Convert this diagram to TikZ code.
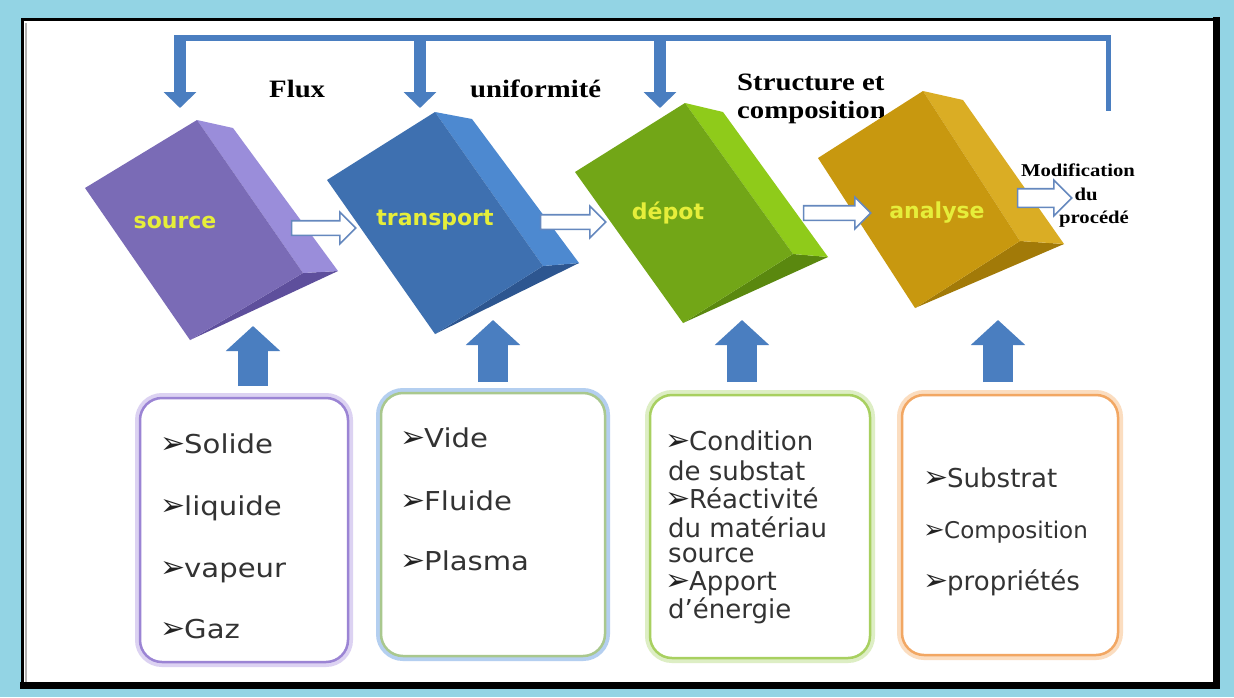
\documentclass[tikz,border=0pt]{standalone}
\usepackage{fontspec}
\setmainfont{Liberation Serif}
\newfontfamily\headfont[FakeStretch=1.15]{Liberation Serif}
\newfontfamily\labfont{DejaVu Sans}
\newfontfamily\itemfonta[FakeStretch=1.12]{DejaVu Sans}
\newfontfamily\itemfontb{DejaVu Sans}
\newfontfamily\arrfont{DejaVu Sans}
\usetikzlibrary{arrows.meta,shapes.arrows,calc}
\definecolor{bgblue}{HTML}{93D4E4}
\definecolor{fbblue}{HTML}{4A7EC0}
\definecolor{holblue}{HTML}{6588BE}
\definecolor{labyellow}{HTML}{E6EE3A}
\definecolor{itemgray}{HTML}{333333}
\definecolor{arrgray}{HTML}{222222}
\definecolor{srcF}{HTML}{7A6BB6}\definecolor{srcS}{HTML}{9A8DDA}\definecolor{srcB}{HTML}{5E4F9C}
\definecolor{trpF}{HTML}{3E70B0}\definecolor{trpS}{HTML}{4D89D0}\definecolor{trpB}{HTML}{2D5690}
\definecolor{depF}{HTML}{72A617}\definecolor{depS}{HTML}{8FCB1A}\definecolor{depB}{HTML}{5A880F}
\definecolor{anaF}{HTML}{C8980F}\definecolor{anaS}{HTML}{DAAD24}\definecolor{anaB}{HTML}{A27A08}
\definecolor{lineA}{HTML}{9B84D4}\definecolor{glowA}{HTML}{DCD2F2}
\definecolor{lineB}{HTML}{A9C88E}\definecolor{glowB}{HTML}{B4CFF0}
\definecolor{lineC}{HTML}{A8D060}\definecolor{glowC}{HTML}{DDEEC4}
\definecolor{lineD}{HTML}{F2A763}\definecolor{glowD}{HTML}{FBDDC0}
\newcommand\drawslab[9]{%
  \fill[#9] #4 -- #3 -- #6 -- cycle;
  \fill[#8] #2 -- #5 -- #6 -- #3 -- cycle;
  \fill[#7] #1 -- #2 -- #3 -- #4 -- cycle;}
\newcommand\arr{\makebox[21pt][l]{\hspace*{-3pt}\textcolor{arrgray}{\arrfont\fontsize{30}{30}\selectfont ➢}}}
\newcommand\arrs{\makebox[18pt][l]{\hspace*{-3pt}\textcolor{arrgray}{\arrfont\fontsize{26}{26}\selectfont ➢}}}
\begin{document}
\begin{tikzpicture}[x=1pt,y=-1pt,
  lab/.style={font=\labfont\bfseries\fontsize{22}{22}\selectfont, text=labyellow, inner sep=0pt},
  head/.style={font=\headfont\bfseries\fontsize{25}{25}\selectfont, inner sep=0pt, anchor=base west},
  modtext/.style={font=\headfont\bfseries\fontsize{18}{18}\selectfont, inner sep=0pt, anchor=base},
  itema/.style={font=\itemfonta\fontsize{26}{26}\selectfont, text=itemgray, inner sep=0pt, anchor=base west},
  itemb/.style={font=\itemfontb\fontsize{26}{26}\selectfont, text=itemgray, inner sep=0pt, anchor=base west},
  itemc/.style={font=\itemfontb\fontsize{23}{23}\selectfont, text=itemgray, inner sep=0pt, anchor=base west},
  feed/.style={draw=fbblue, line width=6pt},
  downarr/.style={draw=fbblue, line width=12pt, -{Triangle[width=32pt,length=16pt]}},
  uparr/.style={draw=fbblue, line width=30pt, -{Triangle[width=53pt,length=25pt]}},
  hollow/.style={single arrow, draw=holblue, fill=white, line width=1.6pt,
     inner xsep=0pt, inner ysep=6.5pt, single arrow head extend=8.5pt},
  bbox/.style 2 args={rounded corners=22pt, draw=#1, line width=2.5pt, fill=white,
     preaction={draw=#2, line width=10pt}}]
\useasboundingbox (0,0) rectangle (1234,697);
% frame
\fill[bgblue] (0,0) rectangle (1234,697);
\fill[white] (22,19) rectangle (1216,685);
\draw[black!30, line width=2pt] (26,683) -- (26,23);
\draw[black, line width=3pt] (22.5,686) -- (22.5,19.5) -- (1217,19.5);
\draw[black, line width=7pt] (1216.5,17) -- (1216.5,685.5) -- (20,685.5);
% feedback line
\coordinate (fL) at (174,38);
\coordinate (fR) at (1108,38);
\coordinate (fRe) at (1108,111);
\draw[feed] (fL) -- ([xshift=3pt]fR);
\draw[feed, line width=5pt] (fR) -- (fRe);
\coordinate (d1s) at (180,36); \coordinate (d1e) at (180,108);
\coordinate (d2s) at (420,36); \coordinate (d2e) at (420,108);
\coordinate (d3s) at (660,36); \coordinate (d3e) at (660,108);
\draw[downarr] (d1s) -- (d1e);
\draw[downarr] (d2s) -- (d2e);
\draw[downarr] (d3s) -- (d3e);
\node[head] (flux) at (269,97) {Flux};
\node[head] (unif) at (470,97) {uniformité};
\node[head] (struc1) at (737,90) {Structure et};
\node[head] (struc2) at (737,118) {composition};
% slabs
\drawslab{(85,188)}{(197,120)}{(303,273)}{(190,340)}{(233,128)}{(338,271)}{srcF}{srcS}{srcB}
\drawslab{(327,180)}{(435,112)}{(543,266)}{(435,334)}{(472,119)}{(579,263)}{trpF}{trpS}{trpB}
\drawslab{(575,172)}{(685,103)}{(793,254)}{(683,323)}{(723,112)}{(828,257)}{depF}{depS}{depB}
\drawslab{(818,158)}{(923,91)}{(1020,241)}{(915,308)}{(963,100)}{(1064,244)}{anaF}{anaS}{anaB}
\node[lab] (src) at (175,222) {source};
\node[lab] (trp) at (435,220) {transport};
\node[lab] (dep) at (668,213) {dépot};
\node[lab] (ana) at (937,213) {analyse};
% modification text
\node[modtext] (m1) at (1078,176) {Modification};
\node[modtext] (m2) at (1086,200) {du};
\node[modtext] (m3) at (1094,223) {procédé};
% hollow arrows
\coordinate (h1s) at (288,228); \coordinate (h1e) at (352,228);
\coordinate (h2s) at (537,222); \coordinate (h2e) at (602,222);
\coordinate (h3s) at (800,213); \coordinate (h3e) at (867,213);
\coordinate (h4s) at (1013,198); \coordinate (h4e) at (1067,198);
\path (h1s) -- (h1e) node[midway, hollow, minimum height=64pt] (h1) {};
\path (h2s) -- (h2e) node[midway, hollow, minimum height=65pt] (h2) {};
\path (h3s) -- (h3e) node[midway, hollow, minimum height=67pt] (h3) {};
\path (h4s) -- (h4e) node[midway, hollow, minimum height=54pt, inner ysep=8.5pt] (h4) {};
% bottom boxes
\node[bbox={lineA}{glowA}, minimum width=208pt, minimum height=264pt] (b1) at (244,530) {};
\node[bbox={lineB}{glowB}, minimum width=224pt, minimum height=263pt] (b2) at (493,524.5) {};
\node[bbox={lineC}{glowC}, minimum width=220pt, minimum height=263pt] (b3) at (760,526.5) {};
\node[bbox={lineD}{glowD}, minimum width=216pt, minimum height=260pt] (b4) at (1010,525) {};
% up arrows
\coordinate (u1s) at (253,386); \coordinate (u1e) at (253,326);
\coordinate (u2s) at (493,382); \coordinate (u2e) at (493,320);
\coordinate (u3s) at (742,382); \coordinate (u3e) at (742,320);
\coordinate (u4s) at (998,382); \coordinate (u4e) at (998,320);
\draw[uparr] (u1s) -- (u1e);
\draw[uparr] (u2s) -- (u2e);
\draw[uparr] (u3s) -- (u3e);
\draw[uparr] (u4s) -- (u4e);
% box texts
\node[itema] (b1a) at (163,453) {\arr Solide};
\node[itema] (b1b) at (163,515) {\arr liquide};
\node[itema] (b1c) at (163,577) {\arr vapeur};
\node[itema] (b1d) at (163,638) {\arr Gaz};
\node[itema] (b2a) at (403,447) {\arr Vide};
\node[itema] (b2b) at (403,510) {\arr Fluide};
\node[itema] (b2c) at (403,570) {\arr Plasma};
\node[itemb] (b3a) at (668,450) {\arr Condition};
\node[itemb] (b3b) at (668,480) {de substat};
\node[itemb] (b3c) at (668,508) {\arr Réactivité};
\node[itemb] (b3d) at (668,537) {du matériau};
\node[itemb] (b3e) at (668,562) {source};
\node[itemb] (b3f) at (668,590) {\arr Apport};
\node[itemb] (b3g) at (668,618) {d’énergie};
\node[itemb] (b4a) at (926,487) {\arr Substrat};
\node[itemc] (b4b) at (926,538) {\arrs Composition};
\node[itemb] (b4c) at (926,590) {\arr propriétés};
\end{tikzpicture}
\end{document}
